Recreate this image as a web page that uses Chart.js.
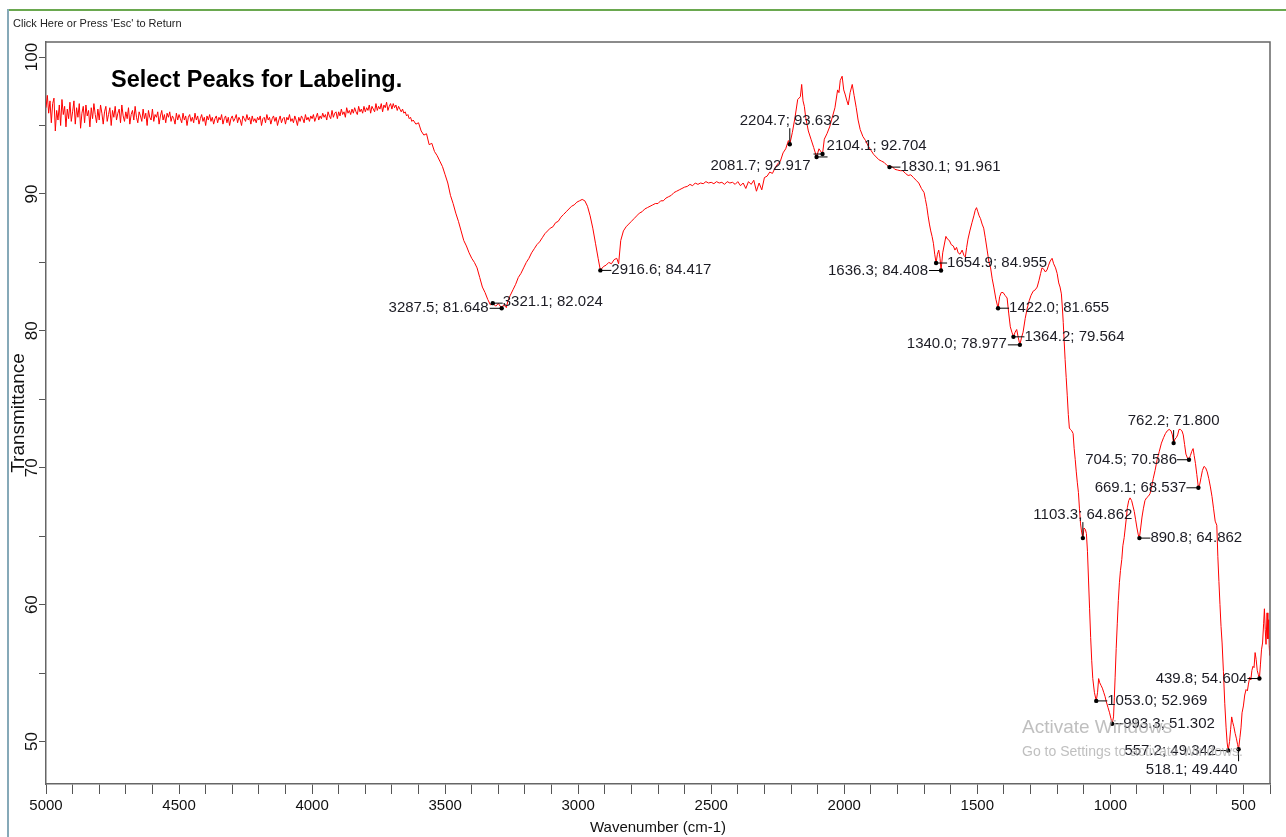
<!DOCTYPE html>
<html>
<head>
<meta charset="utf-8">
<script src="https://cdn.jsdelivr.net/npm/chart.js@4.4.1/dist/chart.umd.min.js"></script>
<style>
html,body{margin:0;padding:0;background:#fff;width:1286px;height:837px;overflow:hidden}
#wrap{position:relative;width:1286px;height:837px}
#c{position:absolute;left:0;top:0}
.chrome-top{position:absolute;left:7px;top:9px;width:1279px;height:2px;background:#6aa84f}
.chrome-left{position:absolute;left:7px;top:9px;width:2px;height:828px;background:#86a9b8}
.back{position:absolute;left:13px;top:17px;font:11px "Liberation Sans",Arial,sans-serif;line-height:13px;color:#222;white-space:nowrap}
</style>
</head>
<body>
<div id="wrap">
<canvas id="c" width="1286" height="837"></canvas>
<div class="chrome-top"></div>
<div class="chrome-left"></div>
<div class="back">Click Here or Press 'Esc' to Return</div>
</div>
<script>
// ---------- DATA (wavenumber cm-1, transmittance %) ----------
// noisy plateau 5000 -> 3620 cm-1, sampled every 5 cm-1
const plateauStart = 5000, plateauStep = 5;
const plateauValues = [
 96.3,97.2,95.9,96.8,95.2,96.6,97.0,94.6,96.1,95.4,
 96.5,95.0,96.9,95.8,96.4,94.9,96.2,95.5,96.7,95.3,
 96.0,96.8,95.1,96.3,95.6,96.6,94.8,95.9,96.4,95.2,
 96.5,95.7,96.1,94.9,96.3,95.5,96.6,95.8,95.2,96.2,
 95.4,96.5,95.9,95.1,96.0,96.4,95.3,95.8,96.3,95.0,
 96.1,95.6,96.4,95.4,95.9,96.2,95.2,96.5,95.7,95.3,
 96.0,95.5,96.3,95.1,95.8,96.1,95.4,96.4,95.6,95.2,
 96.0,95.7,95.3,96.2,95.5,95.9,95.0,96.1,95.6,95.4,
 96.2,95.3,95.8,95.6,96.0,95.1,95.7,96.1,95.4,95.8,
 95.2,95.9,95.6,96.0,95.3,95.7,95.5,95.1,95.9,95.4,
 95.8,95.5,95.2,95.9,95.4,95.7,95.0,95.6,95.8,95.3,
 95.6,95.2,95.9,95.4,95.7,95.1,95.5,95.8,95.3,95.6,
 95.0,95.7,95.4,95.8,95.3,95.6,95.1,95.5,95.7,95.2,
 95.6,95.4,95.8,95.1,95.5,95.7,95.2,95.6,95.0,95.5,
 95.7,95.3,95.5,95.8,95.2,95.6,95.4,95.0,95.7,95.5,
 95.3,95.8,95.4,95.6,95.1,95.7,95.3,95.5,95.2,95.6,
 95.4,95.7,95.0,95.5,95.6,95.2,95.8,95.4,95.6,95.1,
 95.5,95.7,95.3,95.6,95.0,95.4,95.7,95.2,95.5,95.6,
 95.1,95.6,95.4,95.8,95.3,95.5,95.2,95.7,95.4,95.0,
 95.6,95.3,95.7,95.5,95.2,95.8,95.4,95.6,95.3,95.7,
 95.5,95.8,95.3,95.6,95.9,95.4,95.7,95.5,95.9,95.6,
 95.8,95.4,96.0,95.7,95.5,96.1,95.6,95.9,96.0,95.5,
 96.0,95.7,96.2,95.8,96.0,95.6,96.3,95.9,96.1,95.8,
 96.2,95.9,96.3,96.0,95.8,96.4,96.0,96.2,95.9,96.4,
 96.0,96.3,96.1,96.5,95.9,96.4,96.2,96.0,96.6,96.1,
 96.4,96.2,96.6,96.0,96.5,96.3,96.7,96.1,96.4,96.6,
 96.2,96.6,96.3,96.5,96.1,96.4,96.2,96.0,96.2,95.9,
 96.0,95.7,95.8,95.5,95.6,95.3,95.4
];
const ohBandSegment = [
 [3610,95.1],[3600,95.2],[3590,94.6],[3580,94.3],[3570,94.4],[3560,93.6],[3550,93.7],[3540,93.1],[3530,92.8],[3520,92.4],
 [3510,92.0],[3500,91.4],[3490,90.8],[3480,89.9],[3470,89.3],[3460,88.6],[3450,88.0],[3440,87.3],[3430,86.6],[3420,86.2],
 [3410,85.7],[3400,85.3],[3390,85.0],[3380,84.6],[3370,83.9],[3360,83.2],[3350,82.8],[3340,82.3],[3330,81.9],[3321.1,82.024],
 [3310,81.8],[3300,82.0],[3287.5,81.648],[3280,81.9],[3270,81.7],[3264,82.2],[3255,82.6],[3245,83.0],[3235,83.4],[3225,83.9],
 [3215,84.2],[3205,84.6],[3195,85.0],[3185,85.3],[3175,85.7],[3165,86.0],[3155,86.3],[3145,86.5],[3135,86.8],[3125,87.1],
 [3115,87.3],[3105,87.5],[3095,87.6],[3085,87.9],[3075,88.0],[3065,88.3],[3055,88.5],[3045,88.7],[3035,88.9],[3025,89.1],
 [3015,89.2],[3005,89.4],[2995,89.5],[2985,89.6]
];
const chBandSegment = [
 [2975,89.5],[2965,89.1],[2955,88.4],[2945,87.5],[2935,86.4],[2925,85.3],[2916.6,84.417],[2905,84.7],[2895,84.8],[2885,85.0],
 [2875,84.9],[2865,85.2],[2855,85.3],[2848,84.9],[2840,86.6],[2830,87.3],[2820,87.6],[2810,87.8],[2800,88.0],[2790,88.2],
 [2780,88.4],[2770,88.6],[2760,88.7],[2750,88.9],[2740,89.0],[2730,89.1],[2720,89.2],[2710,89.3],[2700,89.3],[2690,89.5],
 [2680,89.5],[2670,89.7],[2660,89.8],[2650,89.9],[2640,90.1],[2630,90.2],[2620,90.3],[2610,90.4],[2600,90.5],[2590,90.55],
 [2580,90.7],[2570,90.6],[2560,90.8],[2550,90.7],[2540,90.8],[2530,90.75],[2520,90.9],[2510,90.8],[2500,90.85],[2490,90.75],
 [2480,90.9],[2470,90.8],[2460,90.85],[2450,90.7],[2440,90.9],[2430,90.8],[2420,90.85],[2410,90.7],[2400,90.9],[2390,90.6],
 [2380,90.8],[2370,90.4],[2360,90.9],[2350,90.7],[2340,91.0],[2330,90.2],[2320,90.8],[2310,90.3],[2300,91.2]
];
const midSegment = [
 [2290,91.3],[2280,91.6],[2270,91.5],[2260,91.9],[2250,92.2],[2240,92.4],[2230,93.0],[2220,93.3],[2210,93.9],[2204.7,93.632],
 [2195,94.5],[2185,95.6],[2175,96.9],[2165,97.1],[2160,98.0],[2155,96.8],[2150,96.4],[2145,95.6],[2135,94.6],[2125,94.0],
 [2115,93.4],[2104.1,92.704],[2095,93.3],[2081.7,92.917],[2075,94.0],[2065,94.4],[2055,94.9],[2045,95.6],[2035,96.3],[2025,97.6],
 [2020,97.4],[2015,98.3],[2008,98.6],[2002,97.6],[1997,97.3],[1990,96.8],[1985,96.5],[1978,97.4],[1970,98.0],[1963,97.2],
 [1955,96.3],[1948,95.4],[1940,94.7],[1930,94.2],[1920,93.9],[1910,93.5],[1900,93.2],[1890,92.9],[1880,92.7],[1870,92.5],
 [1860,92.4],[1850,92.3],[1840,92.1],[1830.1,91.961],[1820,92.0],[1810,91.8],[1800,91.75],[1790,91.7],[1780,91.7],[1770,91.5],
 [1760,91.35],[1750,91.4],[1740,91.2],[1730,91.0],[1720,90.8],[1710,90.4],[1700,90.1],[1695,89.6],[1690,89.1],[1685,88.4],
 [1680,87.8],[1675,87.3],[1670,86.9],[1665,86.4],[1660,85.6],[1654.9,84.955],[1650,85.6],[1645,85.9],[1640,85.3],[1636.3,84.408],
 [1630,85.7],[1625,86.2],[1618,86.9],[1612,86.7],[1605,86.6],[1598,86.3],[1590,86.2],[1584,85.9],[1578,86.1],[1572,85.7],
 [1565,85.6],[1557,85.9],[1550,85.5],[1545,85.4],[1540,86.1],[1535,86.7],[1528,87.3],[1520,87.9],[1513,88.4],[1508,88.8],
 [1503,89.0],[1498,88.7],[1493,88.4],[1488,88.2],[1482,87.8],[1476,87.5],[1470,86.8],[1463,85.9],[1456,85.0],[1450,84.6],
 [1444,83.8],[1438,83.2],[1430,82.3],[1422.0,81.655],[1416,82.5],[1410,82.8],[1403,82.8],[1396,82.6],[1388,82.4],[1382,81.3],
 [1376,80.3],[1370,79.9],[1364.2,79.564],[1358,79.9],[1352,80.1],[1346,79.5],[1340.0,78.977],[1334,79.5],[1328,79.9],[1320,80.9],
 [1313,81.6],[1305,82.2],[1298,82.6],[1290,82.9],[1282,83.0],[1275,83.2],[1268,83.7],[1262,84.2],[1257,84.6],[1250,84.5],
 [1244,84.3],[1238,84.45],[1232,84.8],[1226,85.1],[1219,85.3],[1213,84.9],[1206,84.6],[1200,84.2],[1194,83.5],[1189,83.2],
 [1184,82.7],[1180,81.6],[1177,80.6]
];
const fingerprintSegment = [
 [1174,79.4],[1170,77.9],[1166,76.6],[1162,75.3],[1158,73.9],[1154,72.9],[1150,72.8],[1145,72.7],[1140,72.5],[1136,71.4],
 [1132,70.6],[1128,69.7],[1124,68.9],[1120,68.2],[1116,67.0],[1112,65.9],[1108,65.3],[1103.3,64.862],[1099,65.6],[1094,65.5],
 [1090,65.2],[1086,63.9],[1082,61.8],[1078,59.7],[1074,57.6],[1070,55.9],[1066,54.6],[1060,53.6],[1053.0,52.969],[1048,53.6],
 [1044,54.6],[1040,54.3],[1035,54.1],[1030,53.9],[1025,53.6],[1020,53.3],[1015,52.9],[1009,52.5],[1003,52.1],[998,51.7],
 [993.3,51.302],[988,51.8],[985,53.2],[982,54.7],[978,56.8],[974,58.6],[970,60.3],[966,61.6],[962,62.5],[957,63.3],
 [953,64.3],[948,64.9],[944,65.6],[940,66.3],[936,67.1],[931,67.6],[926,67.8],[920,67.6],[915,67.2],[910,66.8],
 [905,66.2],[900,65.6],[895,65.1],[890.8,64.862],[886,65.6],[881,66.4],[876,67.0],[870,67.6],[864,67.8],[858,67.9],
 [851,68.1],[845,68.6],[839,69.2],[832,69.8],[824,70.6],[816,71.2],[808,71.8],[800,72.2],[793,72.5],[786,72.7],
 [779,72.8],[772,72.7],[767,72.4],[762.2,71.8],[757,72.1],[752,72.2],[747,72.4],[742,72.8],[737,72.8],[731,72.7],
 [726,72.4],[721,71.7],[716,71.0],[710,70.7],[704.5,70.586],[699,70.9],[694,71.2],[689,71.4],[685,70.9],[680,70.3],
 [675,69.5],[669.1,68.537],[664,68.8],[659,69.3],[654,69.8],[648,70.1],[642,70.0],[636,69.7],[630,69.2],[624,68.6],
 [618,67.9],[612,67.0],[606,66.1],[600,65.8],[596,63.5],[592,61.7],[588,60.0],[584,58.4],[580,57.2],[575,55.1],
 [570,52.8],[565,51.0],[561,49.9],[557.2,49.342],[552,50.0],[548,50.9],[544,51.8],[540,51.4],[536,51.1],[531,50.6],
 [526,50.2],[522,49.8],[518.1,49.44],[513,50.3],[509,51.0],[505,52.1],[500,52.6],[495,53.4],[490,53.8],[485,53.7],
 [481,54.2],[476,54.7],[472,54.5],[468,55.2],[464,55.5],[460,55.4],[456,56.5],[452,56.0],[448,55.2],[444,54.9],
 [439.8,54.604],[436,55.6],[432,56.7],[428,57.2],[424,58.6],[421,59.7],[418,58.2],[415,57.1],[411,59.4],[408,57.5],
 [405,58.9],[403,57.0],[401,56.3]
];

const peakWavenumbers   = [3287.5, 3321.1, 2916.6, 2204.7, 2104.1, 2081.7, 1830.1, 1636.3, 1654.9, 1422.0, 1364.2,
                           1340.0, 1103.3, 1053.0, 993.3, 890.8, 762.2, 704.5, 669.1, 557.2, 518.1, 439.8];
const peakTransmittance = [81.648, 82.024, 84.417, 93.632, 92.704, 92.917, 91.961, 84.408, 84.955, 81.655, 79.564,
                           78.977, 64.862, 52.969, 51.302, 64.862, 71.800, 70.586, 68.537, 49.342, 49.440, 54.604];

const xTickLabels = [5000, 4500, 4000, 3500, 3000, 2500, 2000, 1500, 1000, 500];
const yTickLabels = [50, 60, 70, 80, 90, 100];

// ---------- STYLE (label placement relative to each peak marker, in px) ----------
const peakLabelPlacement = [
 {line:[-12,0], text:[-13,0], align:'right'},   // 3287.5
 {line:[10,0],  text:[10,-1], align:'left'},    // 3321.1
 {line:[11,0],  text:[11,-1], align:'left'},    // 2916.6
 {line:[0,-16], text:[0,-23], align:'center'},  // 2204.7
 {line:[11,0],  text:[10,-11], align:'left'},   // 2104.1
 {line:[-9,0],  text:[-12,12], align:'right'},  // 2081.7
 {line:[11,0],  text:[11,0],  align:'left'},    // 1830.1
 {line:[-12,0], text:[-13,0], align:'right'},   // 1636.3
 {line:[11,0],  text:[11,0],  align:'left'},    // 1654.9
 {line:[11,0],  text:[11,0],  align:'left'},    // 1422.0
 {line:[11,0],  text:[11,0],  align:'left'},    // 1364.2
 {line:[-12,0], text:[-13,-1], align:'right'},  // 1340.0
 {line:[0,-16], text:[0,-23], align:'center'},  // 1103.3
 {line:[11,0],  text:[11,0],  align:'left'},    // 1053.0
 {line:[11,0],  text:[11,0],  align:'left'},    // 993.3
 {line:[11,0],  text:[11,0],  align:'left'},    // 890.8
 {line:[0,-13], text:[0,-22], align:'center'},  // 762.2
 {line:[-12,0], text:[-12,0], align:'right'},   // 704.5
 {line:[-12,0], text:[-12,0], align:'right'},   // 669.1
 {line:[-12,0], text:[-12,0], align:'right'},   // 557.2
 {line:[0,12],  text:[-1,21], align:'right'},   // 518.1
 {line:[-12,0], text:[-12,0], align:'right'}    // 439.8
];

const FONT = '"Liberation Sans", Arial, sans-serif';
const plateauSegment = plateauValues.map((v, i) => [plateauStart - i * plateauStep, v]);
const spectrum = [].concat(plateauSegment, ohBandSegment, chBandSegment, midSegment, fingerprintSegment)
  .map(p => ({x: p[0], y: p[1]}));

const overlayPlugin = {
  id: 'overlay',
  afterDatasetsDraw(chart) {
    const {ctx, chartArea: a, scales: {x, y}} = chart;
    ctx.save();
    ctx.strokeStyle = '#666'; ctx.lineWidth = 1.5;
    ctx.beginPath(); ctx.moveTo(a.left, a.top); ctx.lineTo(a.right, a.top); ctx.lineTo(a.right, a.bottom); ctx.stroke();
    ctx.fillStyle = '#000'; ctx.textAlign = 'left'; ctx.textBaseline = 'alphabetic';
    ctx.font = 'bold 23.5px ' + FONT;
    ctx.fillText('Select Peaks for Labeling.', 111, 87);
    ctx.font = '15px ' + FONT;
    peakWavenumbers.forEach((w, i) => {
      const v = peakTransmittance[i];
      const px = x.getPixelForValue(w), py = y.getPixelForValue(v);
      const p = peakLabelPlacement[i];
      ctx.strokeStyle = '#000'; ctx.lineWidth = 1;
      ctx.beginPath(); ctx.moveTo(px, py); ctx.lineTo(px + p.line[0], py + p.line[1]); ctx.stroke();
      ctx.fillStyle = '#000';
      ctx.beginPath(); ctx.arc(px, py, 2.2, 0, Math.PI * 2); ctx.fill();
      ctx.fillStyle = '#1c1c24'; ctx.textAlign = p.align; ctx.textBaseline = 'middle';
      ctx.fillText(w.toFixed(1) + '; ' + v.toFixed(3), px + p.text[0], py + p.text[1]);
    });
    ctx.fillStyle = 'rgba(170,170,170,0.75)'; ctx.textAlign = 'left'; ctx.textBaseline = 'middle';
    ctx.font = '19px ' + FONT;
    ctx.fillText('Activate Windows', 1022, 728);
    ctx.font = '14px ' + FONT;
    ctx.fillText('Go to Settings to activate Windows.', 1022, 752);
    ctx.restore();
  }
};

new Chart(document.getElementById('c'), {
  type: 'line',
  data: {
    datasets: [{
      data: spectrum,
      borderColor: '#ff0000',
      borderWidth: 1,
      pointRadius: 0,
      tension: 0,
      fill: false
    }]
  },
  options: {
    responsive: false,
    animation: false,
    devicePixelRatio: 1,
    layout: {padding: {left: 6, right: 16, top: 42, bottom: 0}},
    plugins: {legend: {display: false}, tooltip: {enabled: false}},
    scales: {
      x: {
        type: 'linear', reverse: true, min: 400, max: 5000, position: 'bottom',
        afterFit(s) { s.height = 53; },
        border: {display: true, color: '#666', width: 1.5},
        grid: {drawOnChartArea: false, drawTicks: true, tickLength: 10, color: '#555'},
        ticks: {
          stepSize: 100, autoSkip: false, maxRotation: 0, minRotation: 0, padding: 3,
          color: '#111', font: {family: FONT, size: 15},
          callback: v => xTickLabels.includes(v) ? String(v) : ''
        },
        title: {display: true, text: 'Wavenumber (cm-1)', color: '#111', font: {family: FONT, size: 15}, padding: {top: 0, bottom: 0}}
      },
      y: {
        type: 'linear', min: 46.9, max: 101.1, position: 'left',
        afterFit(s) { s.width = 40; },
        border: {display: true, color: '#666', width: 1.5},
        grid: {drawOnChartArea: false, drawTicks: true, tickLength: 7, color: '#555'},
        ticks: {
          stepSize: 5, includeBounds: false, autoSkip: false, minRotation: 90, maxRotation: 90,
          crossAlign: 'center', padding: -7,
          color: '#111', font: {family: FONT, size: 17},
          callback: v => yTickLabels.includes(v) ? String(v) : ''
        },
        title: {display: true, text: 'Transmittance', color: '#111', font: {family: FONT, size: 19}, padding: {top: 1, bottom: 0}}
      }
    }
  },
  plugins: [overlayPlugin]
});
</script>
</body>
</html>
